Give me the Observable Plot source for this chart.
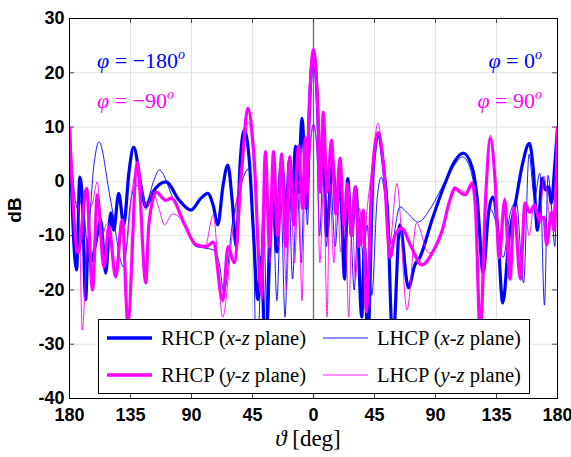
<!DOCTYPE html>
<html><head><meta charset="utf-8">
<script src="https://cdn.jsdelivr.net/npm/d3@7"></script>
<script src="https://cdn.jsdelivr.net/npm/@observablehq/plot@0.6"></script>
<style>body{margin:0;background:#fff}#chart{width:571px;height:457px}</style>
</head><body><div id="chart"></div>
<script>
// ---------- data ----------
const xTicks = [-180, -135, -90, -45, 0, 45, 90, 135, 180];
const yTicks = [-40, -30, -20, -10, 0, 10, 20, 30];
const seriesNames = ["RHCP (x-z plane)", "LHCP (x-z plane)", "RHCP (y-z plane)", "LHCP (y-z plane)"];

const rhcpXZTheta = [-180,-174.8,-172.4,-170.4,-168.1,-166.1,-164.4,-159.5,-157,-153.3,-149.6,-147.4,-143.7,-140,-136,-132.6,-127.4,-123.7,-118.5,-108.9,-99,-90.4,-83,-78,-74,-70.6,-66.7,-63.2,-60,-57,-54,-51.1,-47.4,-44.4,-41,-38.5,-35.5,-32,-30.4,-28.5,-27,-25.5,-23.7,-21.5,-20.5,-19,-17.8,-16.5,-15.6,-14.5,-13.3,-12,-11.1,-10,-8.5,-7,-5.2,-3.5,-2,0,2,3.5,4.7,7.2,9.6,13.9,17,19.3,23,25.2,28.1,31.1,35.6,37.6,40,44,47.8,51.5,54.5,58.5,63.7,70,74.8,78.5,87.4,97,103.7,110.4,117,120.7,125.2,129,132.2,135.6,139.6,144.4,149,154,159.3,162.2,165.2,168.9,171,173.3,175.5,178,180];
const rhcpXZdB = [9.8,-16.3,0.8,-4,-21.8,-10.8,-14.9,-9.9,-7.1,-16.9,-5.8,-9,-2.2,-8,2,6.3,-0.7,-4.7,-2,-0.1,-3.5,-5.3,-3.1,-2.2,-4.4,-8,-0.7,3,-3.5,-12,3.9,9.4,3.9,-9,-21.8,-14,-33,-8,-3,-8,-13,-3,3.5,-3,-10,-1,4,0,-6,1,6.5,3,-2,5,11.6,6,-5,10,19,23.5,19,10,0,8,-10,4,-5,2,-18,0.5,-10,-1,-25,-12,-30,2,8.5,3,-5,-30,-8,-19.6,-15.4,-14,-7.1,-0.4,3.5,5.2,2.6,-3,-16.9,-6,-2.9,-8,-22.4,-10,-4,3,7,2,-9,0.6,-1.6,-1,-4,3,9.8];

const lhcpXZTheta = [-180,-176.5,-174,-170.5,-167,-162,-158.3,-150,-140,-135,-131,-127,-123.7,-118,-113.8,-104,-95,-86.7,-80,-74.3,-69.6,-66,-60,-54,-47.4,-44.5,-42,-37,-34,-30,-27,-24,-21,-18,-15.5,-12,-9,-6.5,-4.5,-2.5,0,2.5,4.5,7.2,9.5,12.5,16,19,23,26.5,30,33,37,39.5,43,47,50,54,57.5,63.7,70,77,87,97,104,110,116,121,125,130,134,140,145,149.6,155,159,163,167,170.4,173,176,178,180];
const lhcpXZdB = [9.8,-2,-5,-3,-11,3,7.3,-3,-15.8,-4,-0.7,-1.5,-4,0,2.1,-2.9,-8,-12,-12.3,-12.6,-15,-20.6,-8,-1,2.4,-8,-35,-6,-28,-5,-22,-4,-25,-3,-18,-1,-15,4,-8,6,10.5,6,-10,2.6,-12,0,-12,-3,-14,-4,-20,-6,-14,-8,-21,-3,0.8,-5,-11.4,-4.7,-6,-7.5,-4.7,0,3,4.5,2,-4.7,-13,-5,-7,-14,-6,-3.8,-18.7,5,-3,1.5,-22.8,1.1,-6,-12,9.8];

const rhcpYZTheta = [-180,-173.6,-167.4,-163,-159.5,-154.6,-150.9,-146,-141,-137,-130,-123.7,-121.5,-116,-109,-105,-95,-86.7,-79,-74,-67,-63,-58.5,-53,-48.4,-44,-38.5,-35.5,-32.5,-29.5,-26.5,-23.5,-20.5,-17.5,-14.5,-11,-8,-6,-4.8,-3.5,-2,0,2,3.5,5,7.2,10,13.3,16.5,19.5,22.5,25,28,30.6,33.5,36.8,39,43,47.8,52,56.5,60,65,72,80,88,95,100,104.7,108,112,117,119.5,123,127,130.5,134,137,141,145,148,152.6,156,159.5,163,166.7,170,172,175.5,177.5,180];
const rhcpYZdB = [9.8,-13.2,-1.3,-20,-2.5,-15.8,-8.4,-17.6,-7.1,-26,3.5,-18.7,-8,-2,-3.5,-3.1,-8,-11.7,-12,-11.2,-22,-12,-15,2,13.5,5,-20.6,5.5,-12,5.5,-10,5,-12,4.5,-8,6.5,-5,8,-2,11,19.5,24.3,19.5,11,-2,12.7,-2,7.6,-6,4.3,-8,-0.4,-10,-1,-12,-5.3,-24,0,9,2,-14,-10,-8.6,-12,-15.4,-13,-9,-4,-1.3,-2,-2.5,-0.4,-5,-28,-3,7.9,0,-14,-3.5,-18,-4.9,-18,-4,-5.7,-4.4,-7.1,-6.6,-11.7,-5.7,-9,9.8];

const lhcpYZTheta = [-180,-176,-173,-170.6,-166,-163,-159.5,-155.8,-153,-150.9,-146,-142,-138.5,-134,-130,-126,-123.7,-118.7,-114,-110,-104,-99,-86.7,-80,-74,-67,-60,-53,-48,-44,-40.5,-38,-35,-32,-29,-26,-23,-20,-17,-14,-11,-8.5,-6,-4.5,-2.5,0,2.5,4.7,7.5,10,12,15,17.5,20,23,26,28.5,31,34,37,40,43,47.5,52,56,61.5,69,76,85,95,104,108,112,117,119.5,123,127,130.5,134,137,141,145,148,152.6,156,159,163,166.7,170,172.5,175,177.5,180];
const lhcpYZdB = [9.8,-3,-5.3,-27.4,-6,-4,-0.1,-10,-8,-7.7,-16.3,-7.1,-12.6,-2,2.6,-2,-5.3,-2,-5,-8,-6,-6.6,-11.4,-12,-6.2,-25,-10,3,10.9,3,-12,-22,-2,-15,-1,-12,-3,-20,-2,-15,0,-22,3,-5,6,10.3,6,-15,-1,-25,-0.4,-15,-2,-13,-4,-25,-6,-18,-5,-12,-4,2,10.7,2,-12,-0.4,-23.7,-7.7,-13.2,-9.5,-1,-1.5,-2,0,-4,-32,-3,8.5,0,-14,-3,-14,-5,-14,-5,-10,-4,-8,1,-3,-8,-4,9.8];

// ---------- build table ----------
function toRows(thetas, dbs, name) {
  return thetas.map((t, i) => ({theta: t, dB: dbs[i], series: name}));
}
const dRX = toRows(rhcpXZTheta, rhcpXZdB, seriesNames[0]);
const dLX = toRows(lhcpXZTheta, lhcpXZdB, seriesNames[1]);
const dRY = toRows(rhcpYZTheta, rhcpYZdB, seriesNames[2]);
const dLY = toRows(lhcpYZTheta, lhcpYZdB, seriesNames[3]);

const BLUE = "#0000ff", MAG = "#ff00ff";
const W = 571, H = 457, mL = 69, mR = 14, mT = 18, mB = 59;

const chart = Plot.plot({
  width: W, height: H,
  marginLeft: mL, marginRight: mR, marginTop: mT, marginBottom: mB,
  style: {fontFamily: "'Liberation Sans', Arial, sans-serif", fontSize: "18px", fontWeight: "bold", background: "#fff", color: "#000"},
  x: {domain: [-180, 180]},
  y: {domain: [-40, 30]},
  marks: [
    Plot.gridX(xTicks, {stroke: "#e2e2e2", strokeOpacity: 1}),
    Plot.gridY(yTicks, {stroke: "#e2e2e2", strokeOpacity: 1}),
    Plot.ruleX([0], {stroke: "#6a6a6a", strokeWidth: 1.3}),
    Plot.ruleX(xTicks, {y1: 30, y2: 29.1, stroke: "#444"}),
    Plot.ruleX(xTicks, {y1: -40, y2: -39.1, stroke: "#444"}),
    Plot.ruleY(yTicks, {x1: -180, x2: -176.3, stroke: "#444"}),
    Plot.ruleY(yTicks, {x1: 180, x2: 176.3, stroke: "#444"}),
    Plot.line(dRX, {x: "theta", y: "dB", stroke: BLUE, strokeWidth: 3.2, curve: "monotone-x", clip: true}),
    Plot.line(dLX, {x: "theta", y: "dB", stroke: BLUE, strokeWidth: 0.9, curve: "monotone-x", clip: true}),
    Plot.line(dRY, {x: "theta", y: "dB", stroke: MAG, strokeWidth: 3.2, curve: "monotone-x", clip: true}),
    Plot.line(dLY, {x: "theta", y: "dB", stroke: MAG, strokeWidth: 0.9, curve: "monotone-x", clip: true}),
    Plot.frame({stroke: "#000", strokeWidth: 1}),
    Plot.axisX(xTicks, {tickSize: 0, tickPadding: 10, tickFormat: d => String(Math.abs(d)), label: null}),
    Plot.axisY(yTicks, {tickSize: 0, tickPadding: 5, tickFormat: d => String(d), label: null})
  ]
});
document.getElementById("chart").appendChild(chart);

// ---------- overlays: axis titles, annotations, legend ----------
const svg = d3.select(chart);
svg.append("text").attr("transform", "translate(14,210) rotate(-90)")
  .attr("text-anchor", "middle").attr("dominant-baseline", "central")
  .attr("font-family", "'Liberation Sans', Arial, sans-serif").attr("font-weight", "bold").attr("font-size", 19)
  .text("dB");

const xl = svg.append("text").attr("x", 308).attr("y", 446).attr("text-anchor", "middle")
  .attr("font-family", "'Liberation Serif', 'Times New Roman', serif").attr("font-weight", "normal").attr("font-size", 23);
xl.append("tspan").attr("font-style", "italic").text("ϑ");
xl.append("tspan").text(" [deg]");

function phiLabel(x, y, val, color, anchor) {
  const t = svg.append("text").attr("x", x).attr("y", y).attr("text-anchor", anchor)
    .attr("fill", color).attr("font-family", "'Liberation Serif', 'Times New Roman', serif")
    .attr("font-weight", "normal").attr("font-size", 22);
  t.append("tspan").attr("font-style", "italic").text("φ");
  t.append("tspan").text(" = " + val);
  t.append("tspan").attr("font-style", "italic").attr("font-size", 14).attr("dy", -9).text("o");
}
phiLabel(97, 68, "−180", BLUE, "start");
phiLabel(97, 108, "−90", MAG, "start");
phiLabel(542, 68, "0", BLUE, "end");
phiLabel(542, 108, "90", MAG, "end");

const lg = svg.append("g");
lg.append("rect").attr("x", 98.5).attr("y", 319.5).attr("width", 431).attr("height", 74)
  .attr("fill", "#fff").attr("stroke", "#000").attr("stroke-width", 1);
const entries = [
  {name: seriesNames[0], color: BLUE, w: 3.6, x: 107, y: 338},
  {name: seriesNames[1], color: BLUE, w: 0.9, x: 323, y: 338},
  {name: seriesNames[2], color: MAG, w: 3.6, x: 107, y: 375},
  {name: seriesNames[3], color: MAG, w: 0.9, x: 323, y: 375}
];
entries.forEach(e => {
  lg.append("line").attr("x1", e.x).attr("x2", e.x + 45).attr("y1", e.y).attr("y2", e.y)
    .attr("stroke", e.color).attr("stroke-width", e.w);
  const t = lg.append("text").attr("x", e.x + 54).attr("y", e.y).attr("dy", "0.35em")
    .attr("text-anchor", "start")
    .attr("font-family", "'Liberation Serif', 'Times New Roman', serif").attr("font-weight", "normal").attr("font-size", 20.5);
  const m = e.name.match(/^(\S+) \((.)-(.) plane\)$/);
  t.append("tspan").text(m[1] + " (");
  t.append("tspan").attr("font-style", "italic").text(m[2]);
  t.append("tspan").text("-");
  t.append("tspan").attr("font-style", "italic").text(m[3]);
  t.append("tspan").text(" plane)");
});
</script>
</body></html>
